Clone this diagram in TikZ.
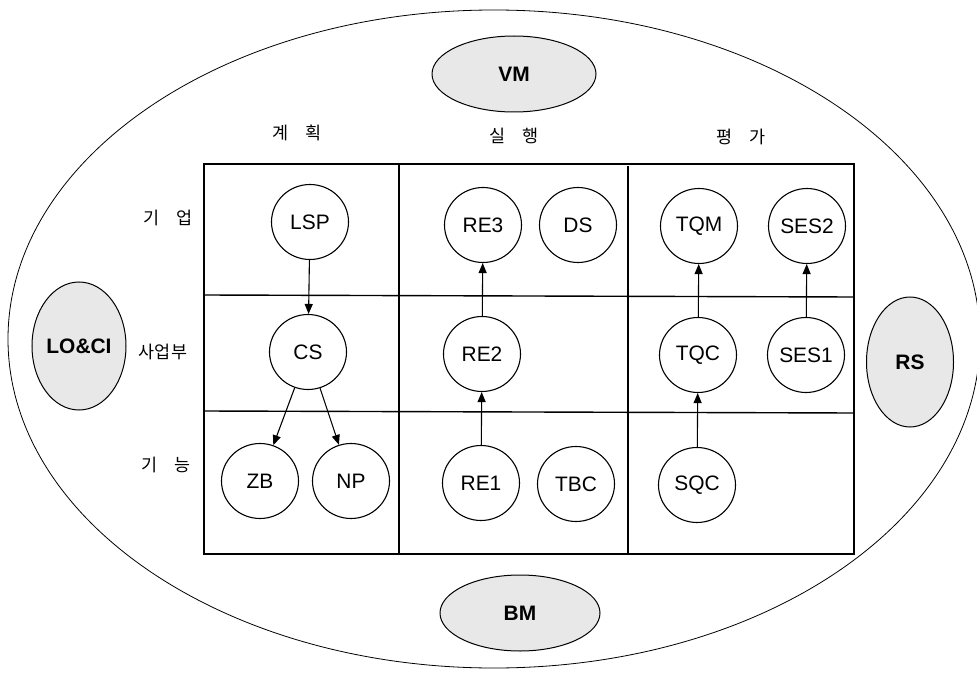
\documentclass[tikz,border=0pt]{standalone}
\usepackage{fontspec}
\setmainfont{Liberation Sans}
\newfontfamily\kr{Noto Sans CJK KR}
\usetikzlibrary{arrows.meta,shapes.geometric}
\begin{document}
\begin{tikzpicture}[x=1bp,y=-1bp,
  every node/.style={inner sep=0pt},
  circ/.style={draw,line width=1.1bp,ellipse,minimum width=77bp,minimum height=75bp,font=\fontsize{21}{24}\selectfont},
  outer/.style={draw,line width=1bp,ellipse,fill=black!9,font=\bfseries\fontsize{21}{24}\selectfont},
  lbl/.style={font=\kr\fontsize{17.5}{20}\selectfont},
  grid/.style={line width=1.4bp},
  arr/.style={line width=1.1bp,-{Triangle[length=10bp,width=8bp]}}]
\useasboundingbox (0,0) rectangle (977,674);
% big ellipse
\draw[line width=0.8bp] (494,339) ellipse [x radius=486, y radius=329];
% outer ellipses
\node[outer,minimum width=164bp,minimum height=76bp] (VM) at (514,74) {VM};
\node[outer,minimum width=160bp,minimum height=76bp] (BM) at (520,613) {BM};
\node[outer,minimum width=94bp,minimum height=128bp] (LOCI) at (79,346) {LO\&CI};
\node[outer,minimum width=87bp,minimum height=130bp] (RS) at (910,362) {RS};
% grid
\draw[grid] (204,164) rectangle (854,554);
\draw[grid] (204,295) -- (854,297);
\draw[grid] (204,411) -- (854,413);
\draw[grid] (399,164) -- (399,554);
\draw[grid] (628,166) -- (628,555);
% labels
\node[lbl] (c1) at (297,133) {계\hspace{1em}획};
\node[lbl] (c2) at (514,136) {실\hspace{1em}행};
\node[lbl] (c3) at (741,137) {평\hspace{1em}가};
\node[lbl] (r1) at (168,218) {기\hspace{1em}업};
\node[lbl] (r2) at (163,352) {사업부};
\node[lbl] (r3) at (166,465) {기\hspace{1em}능};
% nodes
\node[circ] (LSP) at (310,222) {LSP};
\node[circ] (CS) at (308,352) {CS};
\node[circ] (ZB) at (260,481) {ZB};
\node[circ] (NP) at (351,481) {NP};
\node[circ] (RE3) at (483,225) {RE3};
\node[circ] (DS) at (578,225) {DS};
\node[circ] (RE2) at (482,354) {RE2};
\node[circ] (RE1) at (481,483) {RE1};
\node[circ] (TBC) at (576,484) {TBC};
\node[circ] (TQM) at (699,226) {TQM};
\node[circ] (SES2) at (807,226) {SES2};
\node[circ] (TQC) at (698,355) {TQC};
\node[circ] (SES1) at (806,355) {SES1};
\node[circ] (SQC) at (697,485) {SQC};
% arrows
\draw[arr] (LSP) -- (CS);
\draw[arr] (CS) -- (ZB);
\draw[arr] (CS) -- (NP);
\draw[arr] (RE1) -- (RE2);
\draw[arr] (RE2) -- (RE3);
\draw[arr] (SQC) -- (TQC);
\draw[arr] (TQC) -- (TQM);
\draw[arr] (SES1) -- (SES2);
\end{tikzpicture}
\end{document}
